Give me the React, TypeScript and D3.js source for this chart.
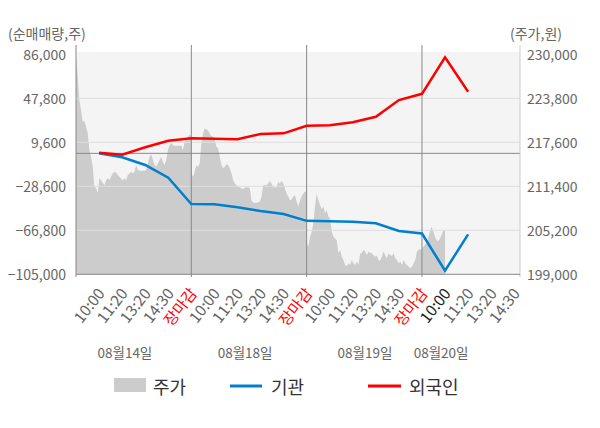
import * as React from "react";
import * as d3 from "d3";

const width = 600;
const height = 428;

const leftTicks = [86000, 47800, 9600, -28600, -66800, -105000];
const rightTicks = [230000, 223800, 217600, 211400, 205200, 199000];
const timeLabels = ["10:00", "11:20", "13:20", "14:30", "장마감"];
const dateLabels = ["08월14일", "08월18일", "08월19일", "08월20일"];

// 주가 (intraday, per day)
const priceDay1 = [
  229600, 227100, 223550, 222150, 220500, 220600, 219800, 218900, 216500, 215550,
  214150, 211350, 211150, 210500, 212550, 212300, 211850, 211600, 212300, 212550,
  212300, 212750, 213250, 213450, 213300, 213000, 212750, 212450, 212200, 212550,
  212300, 213000, 213250, 213450, 213250, 213450, 214400, 213700, 213600, 213600,
  213600, 213600, 213700, 214650, 215550, 215900, 215100, 214400, 214150, 214650,
  215100, 215550, 214850, 214400, 215100, 216500, 217200, 217550, 217200, 217100,
  217100, 217100, 217100, 217100, 216500, 217700, 218150, 218400, 218650, 218400,
];
const priceDay2 = [
  213250, 212750, 213450, 214400, 214150, 214650, 217450, 218850, 219550, 219450,
  219250, 218850, 218500, 218400, 217950, 217000, 216750, 215550, 214400, 213950,
  214150, 214500, 214400, 213950, 213250, 212300, 211800, 211600, 211350, 211250,
  211100, 211000, 211250, 211250, 211250, 211100, 209450, 209100, 209000, 209100,
  209100, 209250, 209950, 211600, 211600, 211600, 211800, 212150, 211800, 211250,
  211250, 211250, 212050, 211800, 212150, 211800, 211100, 210400, 209950, 209450,
  209550, 209950, 210150, 209250, 208550, 209450, 209950, 210400, 210650, 210650,
];
const priceDay3 = [
  203350, 202900, 204300, 205000, 206200, 208550, 210400, 209450, 208750, 208150,
  208550, 207600, 208050, 207100, 206900, 205000, 204300, 204050, 203850, 201950,
  202450, 201500, 201000, 200300, 200150, 200550, 200300, 201000, 200550, 200300,
  200800, 200300, 201950, 201950, 202450, 202200, 201700, 202200, 202050, 201950,
  201700, 201500, 201600, 201000, 200900, 201500, 202200, 201700, 201250, 201950,
  201700, 201600, 201950, 201250, 201000, 200550, 200800, 200300, 201000, 200550,
  200300, 200050, 199850, 200050, 200550, 201000, 202200, 202500, 202500, 202500,
];
const priceDay4 = [
  202700, 203000, 203300, 203850, 204950, 205700, 204950, 204100, 203700, 203850,
  204400, 205100, 205250,
];

// 순매매량 at each time label
const foreign = [
  500, -1200, 5300, 11000, 13200, 12700, 12200, 16800, 17400, 24000, 24400, 27000,
  31800, 46300, 51700, 83400, 53500,
];
const institution = [
  0, -3400, -10100, -21100, -44000, -44200, -46800, -50000, -52600, -58600, -59000,
  -59300, -60700, -67400, -69600, -101900, -70300,
];

const font = '"Noto Sans CJK KR", "Noto Sans", sans-serif';
const left = 76;
const right = 520;
const top = 54.3;
const bottom = 274.3;

export default function App() {
  const x = d3.scaleLinear().domain([0, 19.25]).range([left, right]);
  const yLeft = d3.scaleLinear().domain([-105000, 86000]).range([bottom, top]);
  const yRight = d3.scaleLinear().domain([199000, 230000]).range([bottom, top]);

  const priceDays = [priceDay1, priceDay2, priceDay3, priceDay4];
  const pricePts: { u: number; v: number }[] = [];
  priceDays.forEach((day, d) => {
    const span = d < 3 ? 5 : 1;
    day.forEach((v, i) => pricePts.push({ u: d * 5 + (span * i) / (day.length - 1), v }));
  });

  const area = d3
    .area<{ u: number; v: number }>()
    .x((p) => x(p.u))
    .y0(bottom)
    .y1((p) => yRight(p.v));

  const line = d3
    .line<number>()
    .x((_, i) => x(i + 1))
    .y((v) => yLeft(v));

  const xLabels: { u: number; text: string; color: string }[] = [];
  for (let d = 0; d < 4; d++) {
    timeLabels.forEach((t, k) => {
      const u = d * 5 + k + 1;
      if (u > 19.25) return;
      let color = "#666";
      if (t === "장마감") color = "#ff0000";
      if (d === 3 && k === 0) color = "#222";
      xLabels.push({ u, text: t, color });
    });
  }
  const dateAt = [2.12, 7.33, 12.53, 15.83];

  return (
    <div style={{ position: "absolute", left: 0, top: 0 }}>
      <svg width={width} height={height} style={{ display: "block", fontFamily: font }}>
        <rect x={left} y={52} width={right - left} height={bottom - 52} fill="#f4f4f4" />
        <path d={area(pricePts) || ""} fill="#cccccc" />
        {leftTicks.slice(1, -1).map((t) => (
          <line key={t} x1={left} x2={right} y1={yLeft(t)} y2={yLeft(t)} stroke="#dedede" />
        ))}
        <line x1={left} x2={right} y1={yLeft(0)} y2={yLeft(0)} stroke="#888" />
        {[5, 10, 15].map((u) => (
          <line key={u} x1={x(u)} x2={x(u)} y1={45} y2={277} stroke="#888" />
        ))}
        <line x1={left} x2={left} y1={45} y2={277} stroke="#888" />
        <line x1={right} x2={right} y1={45} y2={277} stroke="#ccc" />
        <line x1={left} x2={right} y1={bottom} y2={bottom} stroke="#888" />

        <path d={line(institution) || ""} fill="none" stroke="#0080cc" strokeWidth={2.5} />
        <path d={line(foreign) || ""} fill="none" stroke="#ff0000" strokeWidth={2.5} />

        <g fontSize={14} fill="#666">
          <text x={8} y={33} dominantBaseline="central">(순매매량,주)</text>
          <text x={562} y={33} textAnchor="end" dominantBaseline="central">(주가,원)</text>
          {leftTicks.map((t) => (
            <text key={t} x={66} y={yLeft(t)} textAnchor="end" dominantBaseline="central">
              {d3.format(",")(t)}
            </text>
          ))}
          {rightTicks.map((t) => (
            <text key={t} x={527} y={yRight(t)} dominantBaseline="central">
              {d3.format(",")(t)}
            </text>
          ))}
        </g>

        {xLabels.map((l) => (
          <text
            key={l.u}
            transform={`translate(${x(l.u) + 1},${bottom + 15}) rotate(-52)`}
            textAnchor="end"
            dominantBaseline="central"
            fontSize={15.5}
            fill={l.color}
          >
            {l.text}
          </text>
        ))}
        {dateLabels.map((t, i) => (
          <text key={t} x={x(dateAt[i])} y={352} textAnchor="middle" dominantBaseline="central" fontSize={13.5} fill="#666">
            {t}
          </text>
        ))}

        <g fontSize={18} fill="#333">
          <rect x={114} y={378} width={32} height={14} fill="#cccccc" />
          <text x={153} y={386} dominantBaseline="central">주가</text>
          <line x1={230} x2={262} y1={386} y2={386} stroke="#0080cc" strokeWidth={3} />
          <text x={271} y={386} dominantBaseline="central">기관</text>
          <line x1={368} x2={401} y1={386} y2={386} stroke="#ff0000" strokeWidth={3} />
          <text x={409} y={386} dominantBaseline="central">외국인</text>
        </g>
      </svg>
    </div>
  );
}
